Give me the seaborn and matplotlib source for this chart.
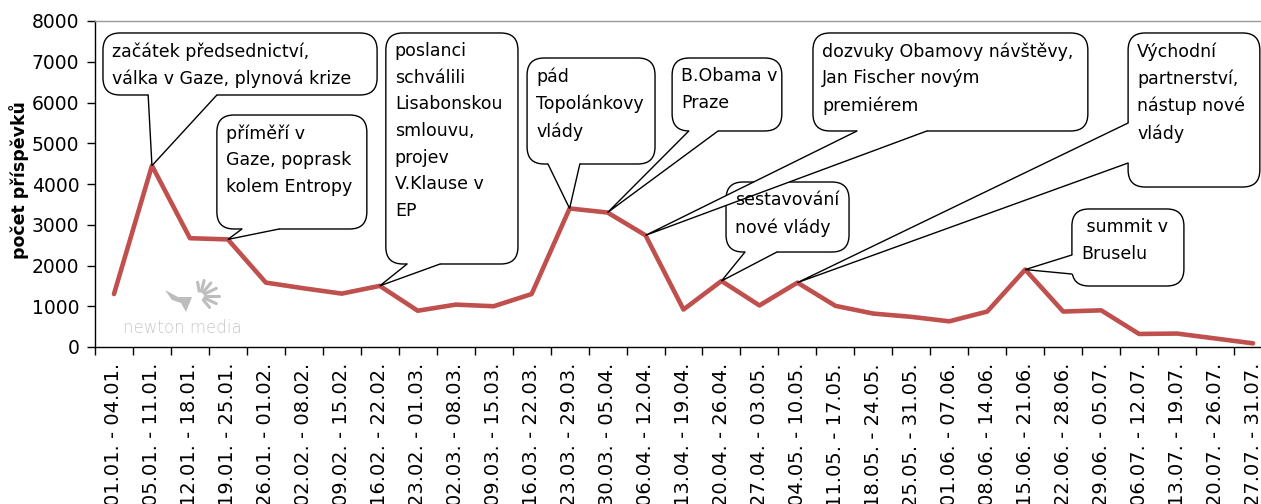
import numpy as np
import pandas as pd
import matplotlib
matplotlib.use('Agg')
import matplotlib.pyplot as plt
from matplotlib.patches import FancyBboxPatch, Polygon
from matplotlib.transforms import IdentityTransform
import seaborn as sns

# weekly periods (2009) and number of articles
obdobi = ['01.01. - 04.01.', '05.01. - 11.01.', '12.01. - 18.01.', '19.01. - 25.01.',
          '26.01. - 01.02.', '02.02. - 08.02.', '09.02. - 15.02.', '16.02. - 22.02.',
          '23.02. - 01.03.', '02.03. - 08.03.', '09.03. - 15.03.', '16.03. - 22.03.',
          '23.03. - 29.03.', '30.03. - 05.04.', '06.04. - 12.04.', '13.04. - 19.04.',
          '20.04. - 26.04.', '27.04. - 03.05.', '04.05. - 10.05.', '11.05. - 17.05.',
          '18.05. - 24.05.', '25.05. - 31.05.', '01.06. - 07.06.', '08.06. - 14.06.',
          '15.06. - 21.06.', '22.06. - 28.06.', '29.06. - 05.07.', '06.07. - 12.07.',
          '13.07. - 19.07.', '20.07. - 26.07.', '27.07. - 31.07.']
pocet = [1300, 4450, 2670, 2640, 1580, 1440, 1310, 1500, 890, 1040, 1000, 1300,
         3400, 3300, 2740, 920, 1620, 1020, 1580, 1010, 820, 740, 630, 870,
         1900, 870, 900, 320, 330, 210, 90]

# callout texts and the week (index) each one points at
popisky = ['začátek předsednictví,\nválka v Gaze, plynová krize',
           'příměří v\nGaze, poprask\nkolem Entropy',
           'poslanci\nschválili\nLisabonskou\nsmlouvu,\nprojev\nV.Klause v\nEP',
           'pád\nTopolánkovy\nvlády',
           'B.Obama v\nPraze',
           'dozvuky Obamovy návštěvy,\nJan Fischer novým\npremiérem',
           'sestavování\nnové vlády',
           'Východní\npartnerství,\nnástup nové\nvlády',
           ' summit v\nBruselu']
popisky_idx = [1, 3, 7, 12, 13, 14, 16, 18, 24]

# callout box layout: (x0, x1, y_bottom, y_top), wedge base and the side it sits on
boxy = [(-0.29, 6.93, 6184, 7706), (2.71, 6.66, 2896, 5693), (7.16, 10.64, 2037, 7706),
        (10.88, 14.25, 4491, 7092), (14.70, 17.59, 5301, 7092), (18.41, 25.65, 5301, 7706),
        (16.12, 19.36, 2331, 4049), (26.71, 30.18, 3926, 7706), (25.23, 28.18, 1497, 3387)]
zaklady = [((0.90, 6184), (2.71, 6184), 'b'), ((3.37, 2896), (4.35, 2896), 'b'),
           ((7.72, 2037), (8.59, 2037), 'b'), ((11.43, 4491), (12.27, 4491), 'b'),
           ((15.14, 5301), (15.91, 5301), 'b'), ((19.57, 5301), (21.41, 5301), 'b'),
           ((16.62, 2331), (17.46, 2331), 'b'), ((26.71, 5497), (26.71, 4515), 'l'),
           ((25.23, 2258), (25.23, 1791), 'l')]

df = pd.DataFrame({'obdobi': obdobi, 'pocet': pocet})
df['pos'] = np.arange(len(df))

sns.set_theme(style='white')
plt.rcParams['font.family'] = ['DejaVu Sans']
plt.rcParams['text.color'] = 'black'

W, H = 1261, 504
fig = plt.figure(figsize=(W / 100, H / 100), dpi=100)
ax = fig.add_axes([95 / W, 157 / H, 1177 / W, 326 / H])

sns.lineplot(data=df, x='pos', y='pocet', ax=ax, color='#C0504D', linewidth=3.3,
             solid_joinstyle='round', zorder=3)

n = len(df)
ax.set_xlim(-0.5, n - 0.5)
ax.set_ylim(0, 8000)
ax.set_xlabel('')
ax.set_ylabel('')

ax.set_xticks(np.arange(-0.5, n, 1))
ax.set_xticklabels([])
ax.set_xticks(df['pos'], labels=df['obdobi'], minor=True)
ax.tick_params(axis='x', which='major', direction='out', length=5.8, width=1,
               color='black', bottom=True)
ax.tick_params(axis='x', which='minor', length=0, pad=11.5, labelrotation=90,
               labelsize=14, labelcolor='black', bottom=True)
ax.set_yticks(np.arange(0, 8001, 1000))
ax.tick_params(axis='y', direction='out', length=5.8, width=1, color='black',
               pad=5.5, labelsize=13.5, labelcolor='black', left=True)

for s in ['left', 'bottom']:
    ax.spines[s].set_color('black')
    ax.spines[s].set_linewidth(1)
ax.spines['top'].set_color('#9a9a9a')
ax.spines['top'].set_linewidth(1)
ax.spines['right'].set_visible(False)

fig.text(19 / W, 1 - 180 / H, 'počet příspěvků', rotation=90, ha='center',
         va='center', fontsize=12.5, fontweight='bold', color='black')

# aspect so that rounded corners stay round in pixels
p = ax.transData.transform([(0, 0), (1, 1)])
aspect = (p[1, 0] - p[0, 0]) / (p[1, 1] - p[0, 1])
px_x = 1 / (p[1, 0] - p[0, 0])
px_y = 1 / (p[1, 1] - p[0, 1])

for text, idx, box, zak in zip(popisky, popisky_idx, boxy, zaklady):
    x0, x1, yb, yt = box
    ax.add_patch(FancyBboxPatch((x0, yb), x1 - x0, yt - yb,
                                boxstyle='round,pad=0,rounding_size=0.45',
                                mutation_aspect=aspect, fc='white', ec='black',
                                lw=1, zorder=5))
    b0, b1, side = zak
    tip = (idx, pocet[idx])
    if side == 'b':
        i0 = (b0[0], b0[1] + 3 * px_y)
        i1 = (b1[0], b1[1] + 3 * px_y)
    else:
        i0 = (b0[0] + 3 * px_x, b0[1])
        i1 = (b1[0] + 3 * px_x, b1[1])
    ax.add_patch(Polygon([i0, b0, tip, b1, i1], closed=True, fc='white', ec='none',
                         zorder=6))
    ax.plot([b0[0], tip[0], b1[0]], [b0[1], tip[1], b1[1]], color='black', lw=1,
            zorder=7, solid_joinstyle='miter')
    ax.annotate(text, xy=(x0, yt), xytext=(6.5, -6.5), textcoords='offset points',
                ha='left', va='top', fontsize=12.5, linespacing=1.62, zorder=8,
                color='black')

# newton media watermark
ax.text(0.24, 344, 'newton media', color='#c8c8c8', fontsize=12,
        fontweight='light', va='baseline', ha='left', zorder=1)
cx, cy = 200, H - 296
for ang, ln in zip([-50, -25, 0, 25, 50, 75, 100], [10, 13, 14, 13, 12, 11, 9]):
    a = np.deg2rad(ang)
    fig.add_artist(plt.Line2D([cx + 5 * np.cos(a), cx + (5 + ln) * np.cos(a)],
                              [cy + 5 * np.sin(a), cy + (5 + ln) * np.sin(a)],
                              transform=IdentityTransform(), color='#bdbdbd',
                              lw=2.2, solid_capstyle='round', zorder=1))
fig.add_artist(Polygon([(165, H - 290), (178, H - 297), (192, H - 297), (186, H - 312),
                        (181, H - 303), (172, H - 300)], closed=True,
                       transform=IdentityTransform(), fc='#bdbdbd', ec='none', zorder=1))

fig.savefig('out.png', dpi=100)
